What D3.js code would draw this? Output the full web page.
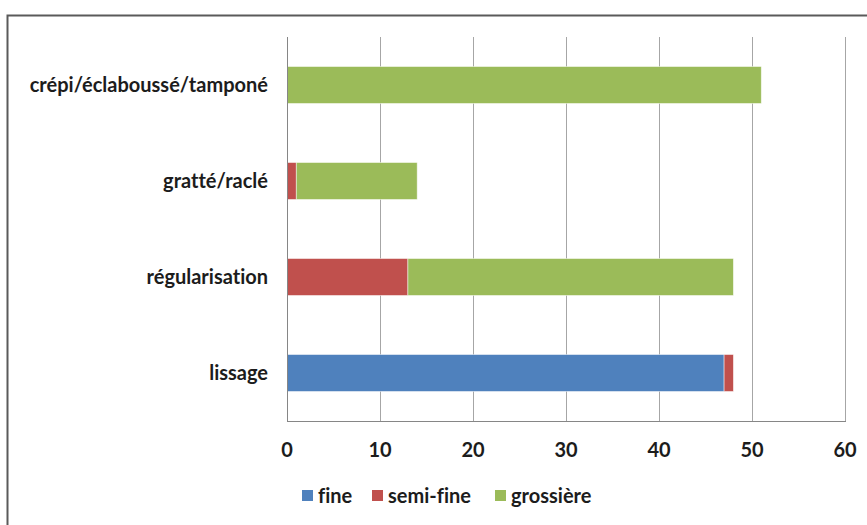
<!DOCTYPE html>
<html><head><meta charset="utf-8">
<script src="https://cdn.jsdelivr.net/npm/d3@7"></script>
<style>body{margin:0;background:#fff}svg{display:block}text{font-variant-ligatures:none;font-feature-settings:"liga" 0}</style>
</head><body>
<script>
const categories = ["crépi/éclaboussé/tamponé", "gratté/raclé", "régularisation", "lissage"];
const seriesNames = ["fine", "semi-fine", "grossière"];
const fine      = [0, 0, 0, 47];
const semiFine  = [0, 1, 13, 1];
const grossiere = [51, 13, 35, 0];
const xTicks = [0, 10, 20, 30, 40, 50, 60];
const colors = ["#4F81BD", "#C0504D", "#9BBB59"];

(function () {
const W = 867, H = 525;
const svg = d3.select("body").append("svg").attr("width", W).attr("height", H);
const font = "Lato, 'Open Sans', sans-serif";
const fs = 20, fw = 700, tc = "#1c1c1c";

svg.append("rect").attr("x", 7.5).attr("y", 15.5).attr("width", 900).attr("height", 600)
  .attr("fill", "#fff").attr("stroke", "#5a5a5a").attr("stroke-width", 2);

const pL = 287, pR = 845, pT = 37, pB = 421;
const x = d3.scaleLinear().domain([0, 60]).range([pL, pR]);
const y = d3.scaleBand().domain(categories).range([pT, pB]).paddingInner(0.615).paddingOuter(0.3075);

// grid
svg.append("g").selectAll("line").data(xTicks.slice(1)).join("line")
  .attr("x1", d => Math.round(x(d)) + 0.5).attr("x2", d => Math.round(x(d)) + 0.5)
  .attr("y1", pT).attr("y2", pB)
  .attr("stroke", "#a6a6a6").attr("stroke-width", 1);

const stackData = categories.map((c, i) => ({cat: c, "fine": fine[i], "semi-fine": semiFine[i], "grossière": grossiere[i]}));
const stacked = d3.stack().keys(seriesNames)(stackData);

svg.append("g").selectAll("g").data(stacked).join("g")
  .attr("fill", (d, i) => colors[i])
  .selectAll("rect").data(d => d.filter(s => s[1] - s[0] > 0)).join("rect")
  .attr("x", d => x(d[0])).attr("width", d => x(d[1]) - x(d[0]))
  .attr("y", d => y(d.data.cat)).attr("height", y.bandwidth())
  .attr("stroke", "#ffffff").attr("stroke-opacity", 0.6).attr("stroke-width", 0.8);

// axes lines
svg.append("line").attr("x1", pL + 0.5).attr("x2", pL + 0.5).attr("y1", pT).attr("y2", pB)
  .attr("stroke", "#868686").attr("stroke-width", 1);
svg.append("line").attr("x1", pL).attr("x2", pR + 1).attr("y1", pB + 0.5).attr("y2", pB + 0.5)
  .attr("stroke", "#868686").attr("stroke-width", 1);

// x tick labels
svg.append("g").selectAll("text").data(xTicks).join("text")
  .attr("x", d => x(d)).attr("y", 457).attr("text-anchor", "middle")
  .attr("font-family", font).attr("font-size", fs).attr("font-weight", fw).attr("fill", tc)
  .text(d => d);

// y labels
svg.append("g").selectAll("text").data(categories).join("text")
  .attr("x", 268).attr("y", d => y(d) + y.bandwidth() / 2 + 7).attr("text-anchor", "end")
  .attr("font-family", font).attr("font-size", fs).attr("font-weight", fw).attr("fill", tc)
  .text(d => d);

// legend
const legX = [302, 372, 495];
const lg = svg.append("g").selectAll("g").data(seriesNames).join("g")
  .attr("transform", (d, i) => `translate(${legX[i]},490)`);
lg.append("rect").attr("width", 11).attr("height", 11).attr("fill", (d, i) => colors[i]);
lg.append("text").attr("x", 16).attr("y", 13).attr("font-family", font).attr("font-size", fs)
  .attr("font-weight", fw).attr("fill", tc).text(d => d);
})();
</script>
</body></html>
